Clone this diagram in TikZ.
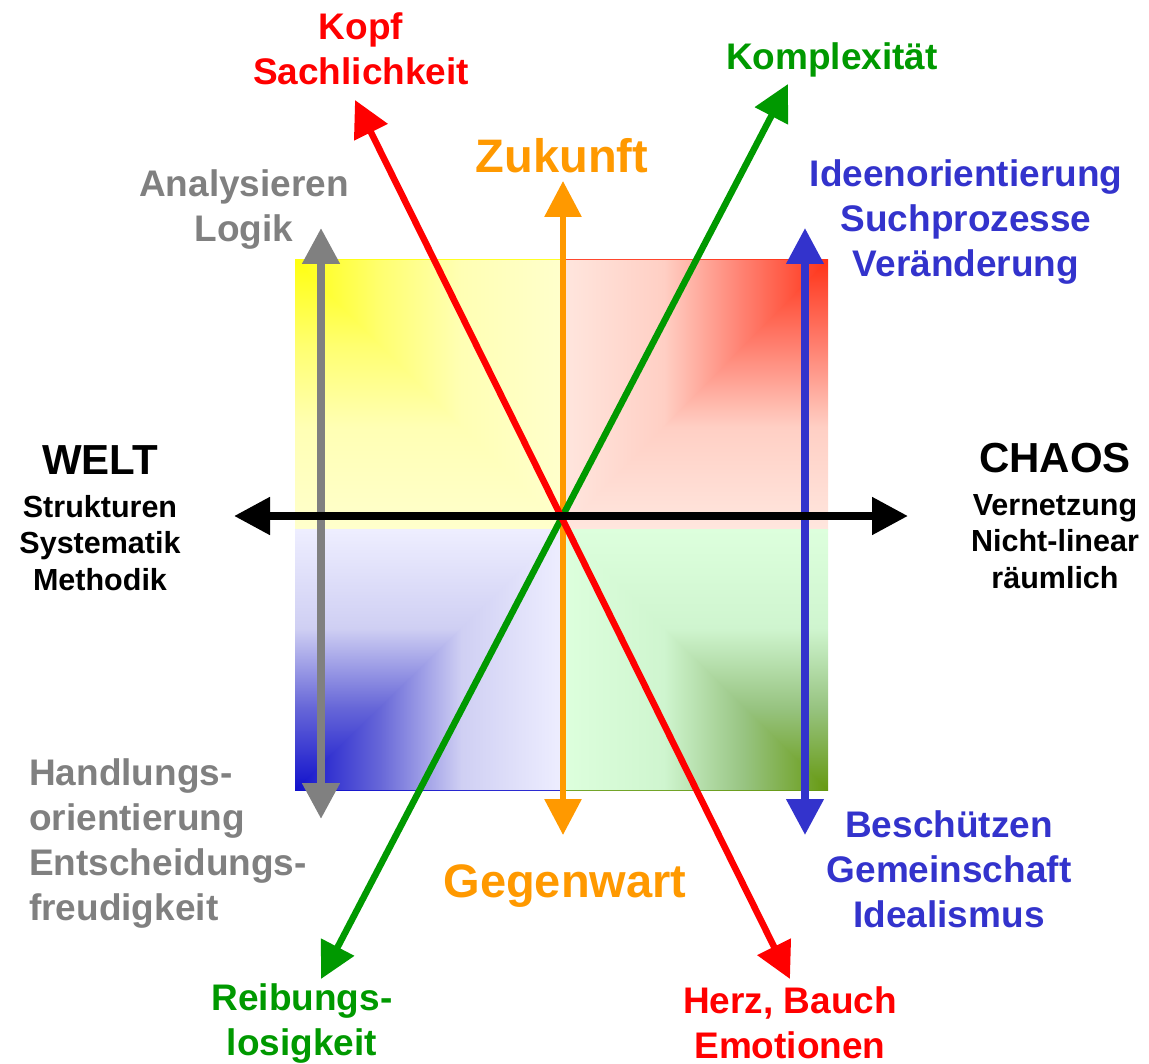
\documentclass[tikz,border=0pt]{standalone}
\usepackage{fontspec}
\setmainfont{Liberation Sans}
\usetikzlibrary{arrows.meta}

\definecolor{cRed}{HTML}{FF0000}
\definecolor{cGreen}{HTML}{009900}
\definecolor{cOrange}{HTML}{FF9900}
\definecolor{cGray}{HTML}{808080}
\definecolor{cBlue}{HTML}{3333CC}

\definecolor{yA}{HTML}{FFFF10}
\definecolor{yB}{HTML}{FFFF70}
\definecolor{yC}{HTML}{FFFFB4}
\definecolor{yD}{HTML}{FFFFCC}
\definecolor{rA}{HTML}{FF3318}
\definecolor{rB}{HTML}{FF8070}
\definecolor{rC}{HTML}{FFCFC4}
\definecolor{rD}{HTML}{FFE6DE}
\definecolor{bA}{HTML}{1111CC}
\definecolor{bB}{HTML}{6868D8}
\definecolor{bC}{HTML}{CFCFF3}
\definecolor{bD}{HTML}{EEEEFF}
\definecolor{gA}{HTML}{669911}
\definecolor{gB}{HTML}{98C482}
\definecolor{gC}{HTML}{CFF5CF}
\definecolor{gD}{HTML}{DDFFDD}

\pgfdeclarehorizontalshading{yelL}{100bp}{color(0bp)=(yA); color(25bp)=(yA); color(41bp)=(yB); color(56bp)=(yC); color(75bp)=(yD); color(100bp)=(yD)}
\pgfdeclareverticalshading{yelT}{100bp}{color(0bp)=(yD); color(25bp)=(yD); color(44bp)=(yC); color(59bp)=(yB); color(75bp)=(yA); color(100bp)=(yA)}
\pgfdeclarehorizontalshading{redR}{100bp}{color(0bp)=(rD); color(25bp)=(rD); color(44bp)=(rC); color(59bp)=(rB); color(75bp)=(rA); color(100bp)=(rA)}
\pgfdeclareverticalshading{redT}{100bp}{color(0bp)=(rD); color(25bp)=(rD); color(44bp)=(rC); color(59bp)=(rB); color(75bp)=(rA); color(100bp)=(rA)}
\pgfdeclarehorizontalshading{bluL}{100bp}{color(0bp)=(bA); color(25bp)=(bA); color(41bp)=(bB); color(56bp)=(bC); color(75bp)=(bD); color(100bp)=(bD)}
\pgfdeclareverticalshading{bluB}{100bp}{color(0bp)=(bA); color(25bp)=(bA); color(41bp)=(bB); color(56bp)=(bC); color(75bp)=(bD); color(100bp)=(bD)}
\pgfdeclarehorizontalshading{grnR}{100bp}{color(0bp)=(gD); color(25bp)=(gD); color(44bp)=(gC); color(59bp)=(gB); color(75bp)=(gA); color(100bp)=(gA)}
\pgfdeclareverticalshading{grnB}{100bp}{color(0bp)=(gA); color(25bp)=(gA); color(41bp)=(gB); color(56bp)=(gC); color(75bp)=(gD); color(100bp)=(gD)}

\tikzset{
  dbl/.style={arrows={Triangle[length=36pt,width=36pt]-Triangle[length=36pt,width=36pt]}},
  lab/.style={font=\bfseries\fontsize{37}{45}\selectfont, align=center, inner sep=0pt, anchor=base},
  big/.style={font=\bfseries\fontsize{47}{50}\selectfont, inner sep=0pt, anchor=base},
  title/.style={font=\bfseries\fontsize{42}{46}\selectfont, inner sep=0pt, anchor=base},
  body/.style={font=\bfseries\fontsize{30.5}{36.5}\selectfont, align=center, inner sep=0pt, anchor=base},
}

\begin{document}
\begin{tikzpicture}[x=1pt,y=-1pt]
\useasboundingbox (0,0) rectangle (1149,1064);

% quadrants
\begin{scope}
  \shade[shading=yelT] (295,260) rectangle (563,529);
  \clip (295,260) -- (563,260) -- (563,529) -- cycle;
  \shade[shading=yelL] (295,260) rectangle (563,529);
\end{scope}
\begin{scope}
  \shade[shading=redT] (563,260) rectangle (828,529);
  \clip (828,260) -- (563,260) -- (563,529) -- cycle;
  \shade[shading=redR] (563,260) rectangle (828,529);
\end{scope}
\begin{scope}
  \shade[shading=bluB] (295,529) rectangle (563,790);
  \clip (295,790) -- (563,790) -- (563,529) -- cycle;
  \shade[shading=bluL] (295,529) rectangle (563,790);
\end{scope}
\begin{scope}
  \shade[shading=grnB] (563,529) rectangle (828,790);
  \clip (828,790) -- (563,790) -- (563,529) -- cycle;
  \shade[shading=grnR] (563,529) rectangle (828,790);
\end{scope}

% arrow end points
\coordinate (grayTop) at (321,228);
\coordinate (grayBot) at (321,819);
\coordinate (blueTop) at (805,228);
\coordinate (blueBot) at (805,835);
\coordinate (orTop) at (563,181);
\coordinate (orBot) at (563,835);
\coordinate (grTop) at (788,84);
\coordinate (grBot) at (321,979);
\coordinate (rdTop) at (355,100);
\coordinate (rdBot) at (790,979);
\coordinate (bkL) at (234,516);
\coordinate (bkR) at (908,516);

\draw[dbl, cGray, line width=8pt] (grayTop) -- (grayBot);
\draw[dbl, cBlue, line width=7.5pt] (blueTop) -- (blueBot);
\draw[dbl, cOrange, line width=6pt] (orTop) -- (orBot);
\draw[dbl, cGreen, line width=6.5pt] (grTop) -- (grBot);
\draw[dbl, cRed, line width=6.5pt] (rdTop) -- (rdBot);
\draw[dbl, black, line width=8pt] (bkL) -- (bkR);

% labels
\node[lab, text=cRed] (kopf) at (361,85) {Kopf\\Sachlichkeit};
\node[lab, text=cGreen] (komplex) at (832,70) {Komplexität};
\node[big, text=cOrange] (zukunft) at (562,173) {Zukunft};
\node[lab, text=cGray] (analys) at (244,242) {Analysieren\\Logik};
\node[lab, text=cBlue] (ideen) at (966,277) {Ideenorientierung\\Suchprozesse\\Veränderung};
\node[title] (welt) at (100,475) {WELT};
\node[body] (weltb) at (100,590) {Strukturen\\Systematik\\Methodik};
\node[title] (chaos) at (1055,472) {CHAOS};
\node[body] (chaosb) at (1055,588) {Vernetzung\\Nicht-linear\\räumlich};
\node[lab, text=cGray, align=left, anchor=base west] (handl) at (29,920) {Handlungs-\\orientierung\\Entscheidungs-\\freudigkeit};
\node[big, text=cOrange] (gegenw) at (565,897) {Gegenwart};
\node[lab, text=cBlue] (besch) at (949,927) {Beschützen\\Gemeinschaft\\Idealismus};
\node[lab, text=cGreen] (reib) at (302,1055) {Reibungs-\\losigkeit};
\node[lab, text=cRed] (herz) at (790,1058) {Herz, Bauch\\Emotionen};
\end{tikzpicture}
\end{document}
